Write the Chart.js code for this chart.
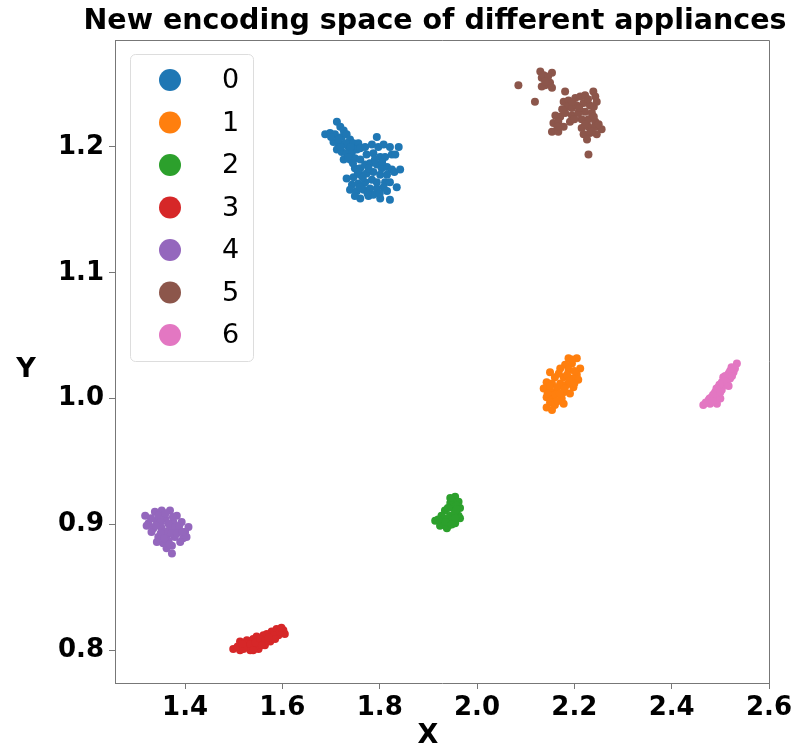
<!DOCTYPE html>
<html>
<head>
<meta charset="utf-8">
<script src="https://cdn.jsdelivr.net/npm/chart.js@4.4.1/dist/chart.umd.min.js"></script>
<style>
  body { margin: 0; background: #fff; }
  canvas { display: block; }
</style>
</head>
<body>
<canvas id="scatterChart" width="807" height="749"></canvas>
<script>
// cluster labels and colours (matplotlib tab10)
const clusterLabels = ['0', '1', '2', '3', '4', '5', '6'];
const clusterColors = ['#1f77b4', '#ff7f0e', '#2ca02c', '#d62728', '#9467bd', '#8c564b', '#e377c2'];

// points, [x, y]
const cluster0 = [
  [1.712,1.220],[1.719,1.216],[1.726,1.213],[1.688,1.210],[1.698,1.211],[1.708,1.210],[1.722,1.208],
  [1.732,1.210],[1.739,1.206],[1.705,1.204],[1.715,1.203],[1.726,1.202],[1.736,1.200],[1.746,1.203],
  [1.756,1.203],[1.712,1.198],[1.722,1.196],[1.732,1.195],[1.743,1.196],[1.753,1.198],[1.760,1.199],
  [1.770,1.200],[1.784,1.202],[1.794,1.208],[1.797,1.200],[1.808,1.202],[1.821,1.200],[1.839,1.200],
  [1.726,1.190],[1.739,1.190],[1.749,1.191],[1.760,1.190],[1.773,1.194],[1.787,1.195],[1.801,1.192],
  [1.811,1.192],[1.825,1.194],[1.832,1.194],[1.749,1.183],[1.760,1.183],[1.770,1.186],[1.780,1.187],
  [1.794,1.186],[1.804,1.183],[1.815,1.184],[1.825,1.182],[1.842,1.182],[1.732,1.175],[1.746,1.176],
  [1.760,1.178],[1.773,1.179],[1.787,1.180],[1.801,1.178],[1.815,1.178],[1.743,1.170],[1.756,1.171],
  [1.770,1.172],[1.784,1.174],[1.794,1.172],[1.811,1.172],[1.821,1.172],[1.739,1.166],[1.753,1.165],
  [1.767,1.166],[1.780,1.167],[1.794,1.167],[1.808,1.168],[1.760,1.159],[1.777,1.161],[1.801,1.159],
  [1.821,1.158],[1.835,1.168],[1.749,1.161],[1.787,1.162],
  [1.700,1.208],[1.716,1.206],[1.730,1.203],[1.740,1.200],[1.720,1.200],[1.735,1.192],[1.745,1.187],
  [1.755,1.180],[1.765,1.176],[1.777,1.183],[1.790,1.190],[1.760,1.168],[1.775,1.163],[1.800,1.163],
  [1.815,1.165],[1.830,1.180],[1.805,1.188]
];
const cluster1 = [
  [2.188,1.032],[2.205,1.032],[2.181,1.027],[2.195,1.028],[2.212,1.024],[2.171,1.024],[2.188,1.023],
  [2.205,1.019],[2.150,1.021],[2.160,1.017],[2.178,1.017],[2.195,1.016],[2.208,1.015],[2.143,1.013],
  [2.154,1.012],[2.171,1.012],[2.184,1.011],[2.198,1.009],[2.137,1.008],[2.150,1.007],[2.164,1.005],
  [2.178,1.005],[2.191,1.004],[2.143,1.001],[2.157,1.001],[2.174,1.000],[2.150,0.997],[2.160,0.995],
  [2.178,0.996],[2.143,0.993],[2.154,0.991],
  [2.195,1.031],[2.200,1.022],[2.185,1.019],[2.168,1.020],[2.190,1.014],[2.165,1.009],[2.180,1.008],
  [2.150,1.010],[2.160,1.003],[2.170,1.004],[2.165,0.998],[2.145,1.004],[2.200,1.012]
];
const cluster2 = [
  [1.955,0.922],[1.962,0.918],[1.945,0.917],[1.965,0.913],[1.951,0.913],[1.934,0.911],[1.962,0.907],
  [1.945,0.907],[1.927,0.907],[1.965,0.905],[1.948,0.903],[1.931,0.902],[1.914,0.903],[1.941,0.899],
  [1.955,0.901],[1.938,0.897],[1.924,0.899],
  [1.950,0.918],[1.958,0.915],[1.940,0.913],[1.955,0.910],[1.940,0.905],[1.955,0.905],[1.935,0.902],
  [1.948,0.900],[1.920,0.904],[1.958,0.912],[1.945,0.921]
];
const cluster3 = [
  [1.499,0.801],[1.513,0.807],[1.523,0.804],[1.534,0.800],[1.544,0.803],[1.527,0.808],[1.540,0.809],
  [1.554,0.807],[1.561,0.812],[1.571,0.811],[1.578,0.815],[1.588,0.817],[1.602,0.816],[1.605,0.813],
  [1.592,0.812],[1.551,0.801],[1.564,0.804],[1.513,0.800],[1.547,0.811],[1.575,0.807],[1.530,0.803],
  [1.508,0.803],[1.520,0.801],[1.535,0.805],[1.545,0.806],[1.555,0.809],[1.565,0.808],[1.568,0.813],
  [1.583,0.812],[1.595,0.815],[1.585,0.809],[1.540,0.800],[1.558,0.804],[1.518,0.805],[1.598,0.818],
  [1.572,0.810]
];
const cluster4 = [
  [1.318,0.907],[1.338,0.910],[1.352,0.911],[1.369,0.911],[1.383,0.907],[1.325,0.901],[1.342,0.903],
  [1.359,0.905],[1.376,0.902],[1.393,0.902],[1.407,0.898],[1.321,0.899],[1.335,0.897],[1.352,0.897],
  [1.369,0.897],[1.386,0.895],[1.400,0.894],[1.345,0.890],[1.362,0.891],[1.379,0.890],[1.396,0.889],
  [1.403,0.890],[1.342,0.886],[1.355,0.885],[1.373,0.883],[1.362,0.881],[1.373,0.877],[1.331,0.894],
  [1.390,0.886],
  [1.330,0.905],[1.345,0.907],[1.360,0.909],[1.375,0.906],[1.350,0.902],[1.365,0.901],[1.380,0.898],
  [1.340,0.899],[1.358,0.894],[1.372,0.893],[1.388,0.899],[1.350,0.893],[1.366,0.887],[1.383,0.893],
  [1.395,0.894],[1.357,0.889],[1.368,0.884]
];
const cluster5 = [
  [2.130,1.260],[2.154,1.259],[2.133,1.255],[2.143,1.253],[2.140,1.249],[2.150,1.251],[2.154,1.247],
  [2.133,1.248],[2.085,1.249],[2.119,1.236],[2.181,1.244],[2.178,1.236],[2.188,1.237],[2.202,1.239],
  [2.212,1.240],[2.222,1.241],[2.239,1.244],[2.243,1.240],[2.185,1.232],[2.195,1.231],[2.205,1.233],
  [2.219,1.235],[2.232,1.233],[2.246,1.236],[2.161,1.225],[2.171,1.224],[2.181,1.227],[2.195,1.225],
  [2.208,1.227],[2.222,1.228],[2.236,1.227],[2.157,1.219],[2.167,1.220],[2.178,1.216],[2.154,1.212],
  [2.167,1.212],[2.191,1.220],[2.215,1.222],[2.229,1.222],[2.243,1.220],[2.215,1.215],[2.229,1.216],
  [2.243,1.216],[2.256,1.214],[2.219,1.210],[2.232,1.211],[2.246,1.210],[2.226,1.206],[2.229,1.194],
  [2.137,1.257],[2.146,1.256],[2.140,1.252],[2.195,1.236],[2.210,1.231],[2.228,1.238],[2.240,1.232],
  [2.175,1.230],[2.200,1.222],[2.165,1.216],[2.222,1.218],[2.236,1.212],[2.250,1.218],[2.240,1.224]
];
const cluster6 = [
  [2.534,1.028],[2.523,1.025],[2.527,1.021],[2.517,1.020],[2.513,1.016],[2.520,1.016],[2.503,1.013],
  [2.510,1.011],[2.496,1.009],[2.503,1.007],[2.489,1.005],[2.496,1.003],[2.482,1.001],[2.489,0.999],
  [2.476,0.999],[2.479,0.996],[2.465,0.995],[2.493,0.996],[2.513,1.013],[2.506,1.017],[2.500,1.000],
  [2.530,1.024],[2.520,1.022],[2.510,1.018],[2.508,1.014],[2.498,1.011],[2.492,1.008],[2.485,1.003],
  [2.478,1.000],[2.470,0.997],[2.500,1.005],[2.517,1.010],[2.524,1.018],[2.484,0.998]
];
const clusters = [cluster0, cluster1, cluster2, cluster3, cluster4, cluster5, cluster6];

// axis ranges and ticks
const xRange = [1.256, 2.6];
const yRange = [0.774, 1.285];
const xStep = 0.2;
const yStep = 0.1;

const chartTitle = 'New encoding space of different appliances';
const xTitle = 'X';
const yTitle = 'Y';

const FONT = "'DejaVu Sans', sans-serif";
const spineColor = '#777';

// title, axis titles, top/right spines and the in-plot legend
const decorPlugin = {
  id: 'decor',
  afterDraw(chart) {
    const ctx = chart.ctx;
    const area = chart.chartArea;
    ctx.save();

    // top and right spines
    ctx.strokeStyle = spineColor;
    ctx.lineWidth = 1;
    ctx.beginPath();
    ctx.moveTo(area.left, area.top + 0.5);
    ctx.lineTo(area.right + 0.5, area.top + 0.5);
    ctx.lineTo(area.right + 0.5, area.bottom);
    ctx.stroke();

    ctx.fillStyle = '#000';
    ctx.textAlign = 'center';
    ctx.textBaseline = 'middle';
    ctx.font = `bold 28.5px ${FONT}`;
    ctx.fillText(chartTitle, 435, 22);
    ctx.font = `bold 27px ${FONT}`;
    ctx.fillText(xTitle, 428, 736);
    ctx.fillText(yTitle, 26, 370);

    // legend box
    const lx = 130, ly = 54, lw = 123, lh = 307;
    ctx.strokeStyle = '#ddd';
    ctx.fillStyle = 'rgba(255,255,255,0.8)';
    ctx.beginPath();
    ctx.roundRect(lx + 0.5, ly + 0.5, lw, lh, 5);
    ctx.fill();
    ctx.stroke();

    ctx.font = `27px ${FONT}`;
    ctx.textAlign = 'left';
    chart.data.datasets.forEach((ds, i) => {
      const cy = 80 + i * 42.5;
      ctx.fillStyle = ds.backgroundColor;
      ctx.beginPath();
      ctx.arc(170, cy, 11, 0, Math.PI * 2);
      ctx.fill();
      ctx.fillStyle = '#000';
      ctx.fillText(ds.label, 222, cy + 1);
    });
    ctx.restore();
  }
};

new Chart(document.getElementById('scatterChart'), {
  type: 'scatter',
  data: {
    datasets: clusters.map((pts, i) => ({
      label: clusterLabels[i],
      data: pts.map(p => ({ x: p[0], y: p[1] })),
      backgroundColor: clusterColors[i],
      borderWidth: 0,
      pointRadius: 4,
      pointHoverRadius: 4
    }))
  },
  options: {
    responsive: false,
    animation: false,
    layout: { padding: { top: 40, right: 38, left: 0, bottom: 0 } },
    plugins: {
      legend: { display: false },
      title: { display: false },
      tooltip: { enabled: false }
    },
    scales: {
      x: {
        type: 'linear',
        min: xRange[0],
        max: xRange[1],
        afterFit: s => { s.height = 66; },
        border: { display: true, color: spineColor, width: 1 },
        grid: { drawOnChartArea: false, drawTicks: true, tickLength: 6, color: spineColor },
        ticks: {
          stepSize: xStep,
          includeBounds: false,
          padding: 4,
          color: '#000',
          maxRotation: 0,
          font: { family: FONT, size: 26, weight: 'bold' },
          callback: v => v.toFixed(1)
        }
      },
      y: {
        type: 'linear',
        min: yRange[0],
        max: yRange[1],
        afterFit: s => { s.width = 115; },
        border: { display: true, color: spineColor, width: 1 },
        grid: { drawOnChartArea: false, drawTicks: true, tickLength: 6, color: spineColor },
        ticks: {
          stepSize: yStep,
          includeBounds: false,
          padding: 5,
          color: '#000',
          font: { family: FONT, size: 26, weight: 'bold' },
          callback: v => v.toFixed(1)
        }
      }
    }
  },
  plugins: [decorPlugin]
});
</script>
</body>
</html>
